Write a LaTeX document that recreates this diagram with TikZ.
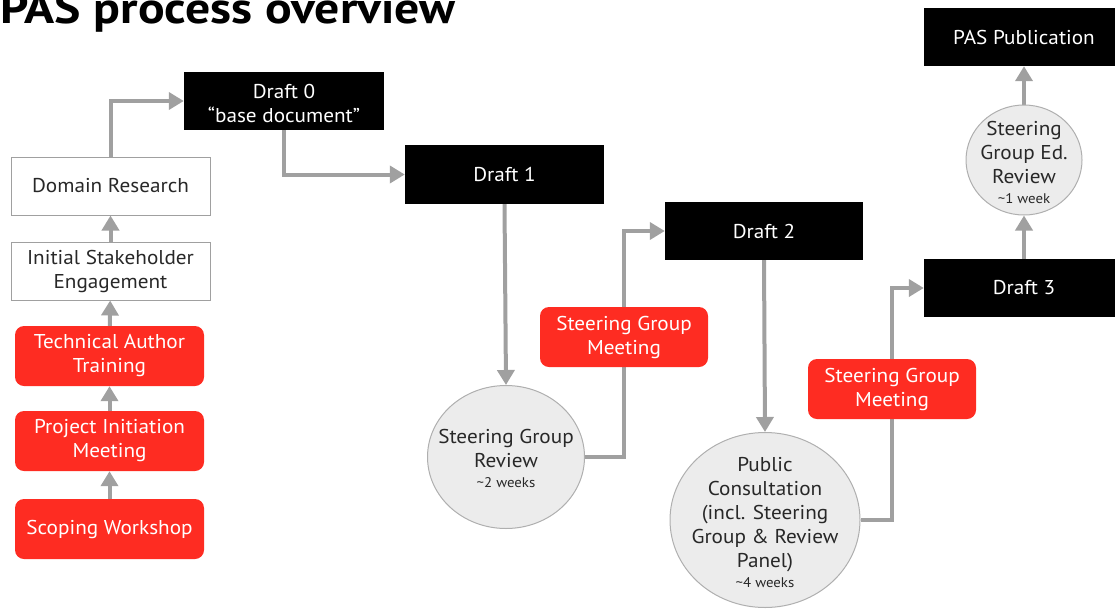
\documentclass[tikz,border=0pt]{standalone}
\usepackage{fontspec}
\setmainfont{PT Sans}[FakeStretch=1.06]
\newfontfamily\titlefont{PT Sans}[FakeStretch=1.13]
\usetikzlibrary{arrows.meta,backgrounds,shapes.geometric}
\definecolor{pasred}{RGB}{254,44,34}
\definecolor{arrowgray}{RGB}{160,160,160}
\definecolor{circfill}{RGB}{236,236,236}
\definecolor{circline}{RGB}{175,175,175}
\definecolor{txtdark}{RGB}{40,40,40}
\tikzset{
  base/.style={align=center, inner sep=2pt, font=\fontsize{20}{24}\selectfont},
  whitebox/.style={base, rectangle, draw=arrowgray, line width=1pt, fill=white, text=txtdark, minimum width=199pt, minimum height=58pt},
  redbox/.style={base, rectangle, rounded corners=9pt, fill=pasred, text=white, minimum width=189pt, minimum height=60pt},
  blackbox/.style={base, rectangle, fill=black, text=white, minimum width=200pt, minimum height=58pt},
  circ/.style={ellipse, draw=circline, line width=1pt, fill=circfill, inner sep=0pt},
  circtext/.style={base, text=txtdark, inner sep=0pt},
  conn/.style={draw=arrowgray, line width=4pt, -{Triangle[width=17pt,length=15pt]}}
}
\newcommand{\weeks}[1]{{\fontsize{14}{16}\selectfont #1}}
\begin{document}
\begin{tikzpicture}[x=1pt,y=-1pt]
\useasboundingbox (0,0) rectangle (1115,608);
\node[anchor=base west, inner sep=0pt, font=\titlefont\fontsize{44}{48}\selectfont\bfseries] (title) at (0,23) {PAS process overview};

\node[whitebox] (dr) at (110.5,186) {Domain Research};
\node[whitebox] (ise) at (110.5,271) {Initial Stakeholder\\Engagement};
\node[redbox] (tat) at (109.5,356) {Technical Author\\Training};
\node[redbox] (pim) at (109.5,441) {Project Initiation\\Meeting};
\node[redbox] (sw) at (109.5,529) {Scoping Workshop};

\node[blackbox] (d0) at (284,101) {};
\node[base, text=white, inner sep=0pt] (d0text) at (284,103) {Draft 0\\“base document”};
\node[blackbox, minimum width=199pt, minimum height=59pt] (d1) at (504.5,174.5) {Draft 1};
\node[blackbox, minimum width=198pt] (d2) at (764,231) {Draft 2};
\node[blackbox] (d3) at (1024,288) {Draft 3};
\node[blackbox] (pub) at (1024,37) {PAS Publication};

\node[redbox, minimum width=168pt] (sgm1) at (624,337) {Steering Group\\Meeting};
\node[redbox, minimum width=168pt] (sgm2) at (892,389) {Steering Group\\Meeting};

\node[circ, minimum width=157pt, minimum height=143pt] (sgr) at (506,457) {};
\node[circtext] (sgrtext) at (506,458) {Steering Group\\Review\\[-4pt]\weeks{\textasciitilde2 weeks}};
\node[circ, minimum width=190pt, minimum height=175pt] (pc) at (765,520) {};
\node[circtext] (pctext) at (765,522) {Public\\Consultation\\(incl. Steering\\Group \& Review\\Panel)\\[-4pt]\weeks{\textasciitilde4 weeks}};
\node[circ, minimum width=116pt, minimum height=110pt] (ed) at (1024,160) {};
\node[circtext] (edtext) at (1024,162) {Steering\\Group Ed.\\Review\\[-4pt]\weeks{\textasciitilde1 week}};

\begin{scope}[on background layer]
\draw[conn] (sw) -- (pim);
\draw[conn] (pim) -- (tat);
\draw[conn] (tat) -- (ise);
\draw[conn] (ise) -- (dr);
\draw[conn] (dr.north) |- (d0.west);
\draw[conn] (d0.south) |- (d1.west);
\draw[conn] (d1.south) -- (sgr.north);
\draw[conn] (sgr.east) -| (sgm1.center) |- (d2.west);
\draw[conn] (d2.south) -- (pc.north);
\draw[conn] (pc.east) -| (sgm2.center) |- (d3.west);
\draw[conn] (d3.north) -- (ed.south);
\draw[conn] (ed.north) -- (pub.south);
\end{scope}
\end{tikzpicture}
\end{document}
